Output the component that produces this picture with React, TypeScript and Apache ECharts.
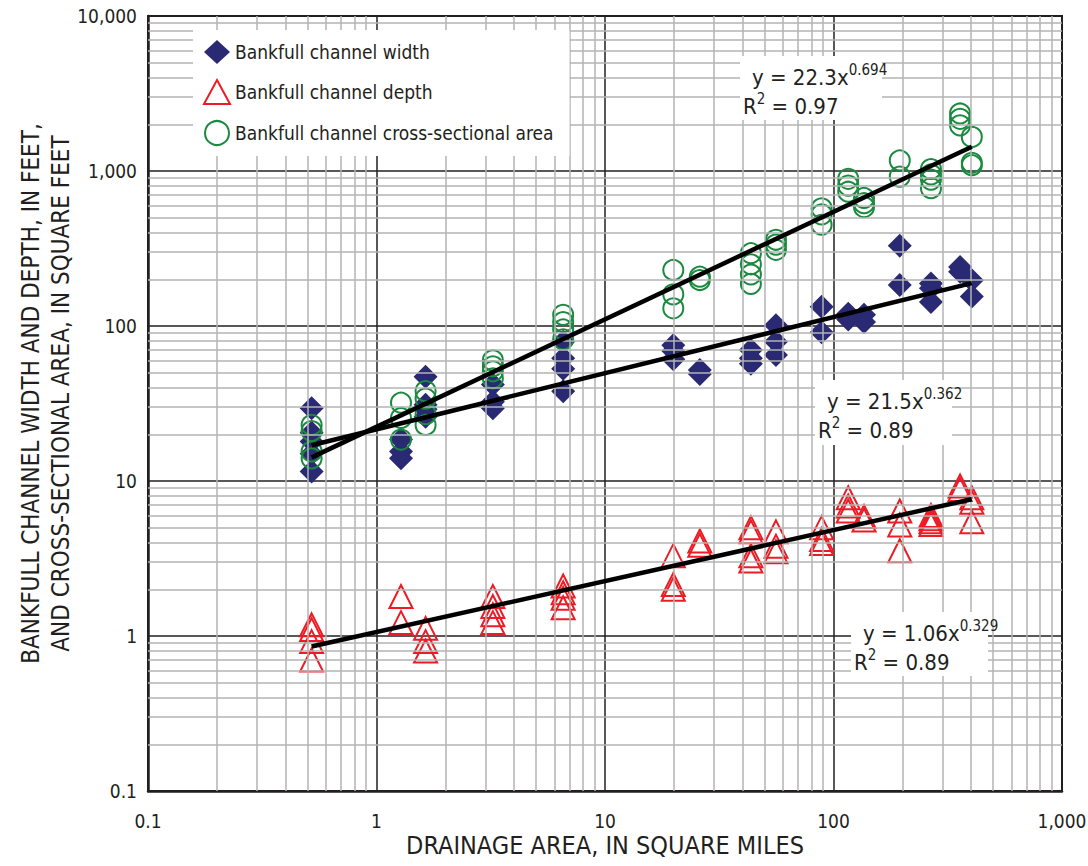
import React, { useEffect, useRef } from "react";
import * as echarts from "echarts";

// ---- Data ----
const widthArea = [0.52, 0.52, 0.52, 0.52, 0.52, 1.28, 1.28, 1.28, 1.64, 1.64, 1.64, 1.64, 3.23, 3.23, 3.23, 6.56, 6.56, 6.56, 6.56, 19.9, 19.9, 19.9, 26, 26, 43.5, 43.5, 43.5, 56, 56, 56, 88.7, 88.7, 116, 116, 136, 136, 195, 195, 267, 267, 267, 358, 358, 403, 403];
const widthFt = [29.5, 20.5, 18, 15, 11.5, 18.5, 15.5, 14, 47, 31, 29, 26, 42, 32.5, 29.5, 79, 62, 53, 38, 75, 69, 61, 52, 49, 70, 62, 57, 101, 79, 65, 133, 91, 120, 110, 118, 106, 330, 184, 188, 175, 143, 240, 224, 197, 155];

const depthArea = [0.52, 0.52, 0.52, 0.52, 1.28, 1.28, 1.64, 1.64, 1.64, 3.23, 3.23, 3.23, 3.23, 6.56, 6.56, 6.56, 6.56, 19.9, 19.9, 19.9, 26, 26, 43.5, 43.5, 43.5, 43.5, 56, 56, 56, 88.7, 88.7, 88.7, 116, 116, 116, 136, 136, 195, 195, 195, 267, 267, 267, 267, 358, 358, 403, 403, 403];
const depthFt = [1.18, 1.1, 0.92, 0.7, 1.8, 1.22, 1.12, 0.92, 0.8, 1.8, 1.55, 1.37, 1.22, 2.1, 1.9, 1.75, 1.52, 3.3, 2.15, 2.0, 4.1, 3.85, 5.0, 4.7, 3.3, 3.05, 4.7, 3.8, 3.5, 5.0, 4.2, 3.95, 7.8, 6.9, 6.4, 5.9, 5.6, 6.4, 5.2, 3.55, 6.0, 5.7, 5.45, 5.25, 9.3, 8.8, 7.8, 7.3, 5.45];

const xsArea = [0.52, 0.52, 0.52, 0.52, 1.28, 1.28, 1.28, 1.64, 1.64, 1.64, 1.64, 3.23, 3.23, 3.23, 3.23, 6.56, 6.56, 6.56, 6.56, 19.9, 19.9, 19.9, 26, 26, 43.5, 43.5, 43.5, 43.5, 56, 56, 56, 88.7, 88.7, 88.7, 116, 116, 116, 136, 136, 136, 195, 195, 267, 267, 267, 267, 358, 358, 358, 403, 403, 403];
const xsSqFt = [23, 21, 15.5, 14, 32, 25.5, 18.5, 38, 34, 27, 23, 60, 55, 51, 46, 118, 106, 95, 82, 230, 160, 130, 208, 198, 295, 250, 215, 187, 360, 335, 310, 575, 525, 450, 890, 805, 735, 670, 620, 585, 1170, 920, 1030, 950, 880, 775, 2350, 2170, 1970, 1660, 1130, 1090];

// Regression lines (end points)
const fitX = [0.52, 403];
const widthFit = [17, 189];
const depthFit = [0.855, 7.63];
const areaFit = [14.2, 1434];

// Minor grid values
const xMinor = [0.2, 0.3, 0.4, 0.5, 0.6, 0.7, 0.8, 0.9, 2, 3, 4, 5, 6, 7, 8, 9, 20, 30, 40, 50, 60, 70, 80, 90, 200, 300, 400, 500, 600, 700, 800, 900];
const yMinor = [0.2, 0.3, 0.4, 0.5, 0.6, 0.7, 0.8, 0.9, 2, 3, 4, 5, 6, 7, 8, 9, 20, 30, 40, 50, 60, 70, 80, 90, 200, 300, 400, 500, 600, 700, 800, 900, 2000, 3000, 4000, 5000, 6000, 7000, 8000, 9000];

const seriesNames = ["Bankfull channel width", "Bankfull channel depth", "Bankfull channel cross-sectional area"];

const FONT = "'Liberation Sans Narrow', 'DejaVu Sans Condensed', 'Roboto Condensed', 'Liberation Sans', sans-serif";
const INK = "#231f20";
const NAVY = "#2a2a74";
const RED = "#ed1c24";
const GREEN = "#1a8a3e";

const fmt = (v: number) => {
  const n = Number(v.toPrecision(6));
  return n.toLocaleString("en-US", { maximumFractionDigits: 2 });
};

const rich = {
  b: { fontSize: 22, fontFamily: FONT, fill: INK, verticalAlign: "bottom", lineHeight: 26 },
  s: { fontSize: 15, fontFamily: FONT, fill: INK, verticalAlign: "top", lineHeight: 14 },
};

function eqBox(x: number, y: number, w: number, h: number, eq: string, sup: string, r2: string) {
  return {
    type: "group",
    z: 50,
    children: [
      { type: "rect", shape: { x, y, width: w, height: h }, style: { fill: "#fff" }, z: 50 },
      {
        type: "text",
        x: x + 12,
        y: y + 6,
        z: 51,
        style: { text: `{b|${eq}}{s|${sup}}`, rich },
      },
      {
        type: "text",
        x: x + 3,
        y: y + 35,
        z: 51,
        style: { text: `{b|R}{s|2}{b| = ${r2}}`, rich },
      },
    ],
  };
}

export default function App() {
  const ref = useRef<HTMLDivElement>(null);
  useEffect(() => {
    if (!ref.current) return;
    const chart = echarts.init(ref.current, undefined, { renderer: "svg" });
    const scatterBase = { type: "scatter", z: 3, silent: true, emphasis: { disabled: true } };
    const option: any = {
      animation: false,
      backgroundColor: "#fff",
      textStyle: { fontFamily: FONT, color: INK },
      grid: {
        left: 148, top: 16, right: 26, bottom: 75,
        outerBoundsMode: "none", containLabel: false,
        show: true, borderColor: INK, borderWidth: 2, backgroundColor: "transparent",
      },
      legend: {
        data: seriesNames,
        orient: "vertical",
        left: 193,
        top: 30,
        padding: [10, 16, 10, 10],
        itemGap: 15,
        itemWidth: 26,
        itemHeight: 24,
        backgroundColor: "#fff",
        textStyle: { fontFamily: FONT, fontSize: 19, color: INK },
        selectedMode: false,
        z: 20,
      },
      xAxis: {
        type: "log",
        logBase: 10,
        min: 0.1,
        max: 1000,
        name: "DRAINAGE AREA, IN SQUARE MILES",
        nameLocation: "middle",
        nameGap: 42,
        nameMoveOverlap: false,
        nameTextStyle: { fontFamily: FONT, fontSize: 25, color: INK },
        axisLine: { lineStyle: { color: INK, width: 2.5 } },
        axisTick: { show: false },
        axisLabel: { fontFamily: FONT, fontSize: 19, color: INK, margin: 20, formatter: fmt },
        splitLine: { show: true, lineStyle: { color: INK, width: 1.5 } },
      },
      yAxis: {
        type: "log",
        logBase: 10,
        min: 0.1,
        max: 10000,
        name: "BANKFULL CHANNEL WIDTH AND DEPTH, IN FEET,\nAND CROSS-SECTIONAL AREA, IN SQUARE FEET",
        nameLocation: "middle",
        nameRotate: 90,
        nameGap: 72,
        nameMoveOverlap: false,
        nameTextStyle: { fontFamily: FONT, fontSize: 24, color: INK, lineHeight: 30, padding: [0, 0, 0, 20] },
        axisLine: { lineStyle: { color: INK, width: 2.5 } },
        axisTick: { show: false },
        axisLabel: { fontFamily: FONT, fontSize: 19, color: INK, margin: 11, formatter: fmt },
        splitLine: { show: true, lineStyle: { color: INK, width: 1.5 } },
      },
      series: [
        {
          name: "grid-minor",
          type: "line",
          z: 1,
          silent: true,
          symbol: "none",
          data: [[0.1, 0.1]],
          lineStyle: { opacity: 0 },
          markLine: {
            silent: true,
            symbol: ["none", "none"],
            label: { show: false },
            lineStyle: { color: "#b3b3b3", width: 1.5, type: "solid" },
            emphasis: { disabled: true },
            data: [...xMinor.map((v) => ({ xAxis: v })), ...yMinor.map((v) => ({ yAxis: v }))],
          },
        },
        {
          ...scatterBase,
          name: seriesNames[0],
          symbol: "diamond",
          symbolSize: 24,
          itemStyle: { color: NAVY, opacity: 1 },
          data: widthArea.map((x, i) => [x, widthFt[i]]),
        },
        {
          ...scatterBase,
          name: seriesNames[1],
          symbol: "triangle",
          symbolSize: 23,
          itemStyle: { color: "rgba(255,255,255,0)", borderColor: RED, borderWidth: 2, opacity: 1 },
          data: depthArea.map((x, i) => [x, depthFt[i]]),
        },
        {
          ...scatterBase,
          name: seriesNames[2],
          symbol: "circle",
          symbolSize: 20,
          itemStyle: { color: "rgba(255,255,255,0)", borderColor: GREEN, borderWidth: 2, opacity: 1 },
          data: xsArea.map((x, i) => [x, xsSqFt[i]]),
        },
        ...[widthFit, depthFit, areaFit].map((fit, k) => ({
          name: "fit" + k,
          type: "line",
          z: 5,
          silent: true,
          symbol: "none",
          lineStyle: { color: "#000", width: 4.5 },
          data: fitX.map((x, i) => [x, fit[i]]),
        })),
      ],
      graphic: [
        eqBox(740, 56, 142, 64, "y = 22.3x", "0.694", "0.97"),
        eqBox(815, 380, 137, 65, "y = 21.5x", "0.362", "0.89"),
        eqBox(851, 612, 137, 64, "y = 1.06x", "0.329", "0.89"),
      ],
    };
    chart.setOption(option);
    return () => chart.dispose();
  }, []);
  return <div ref={ref} style={{ position: "fixed", left: 0, top: 0, width: 1088, height: 866 }} />;
}
